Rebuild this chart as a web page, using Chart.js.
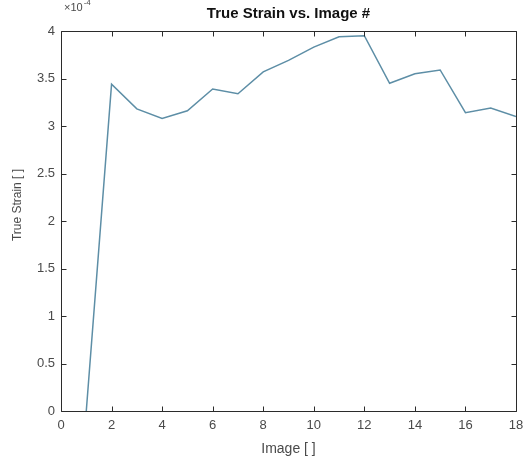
<!DOCTYPE html>
<html lang="en">
<head>
    <meta charset="UTF-8">
    <title>True Strain vs. Image #</title>
    <script src="https://cdn.jsdelivr.net/npm/chart.js"></script>
    <style>
        html, body { margin: 0; padding: 0; background: #fff; }
        #wrap { width: 526px; height: 461px; }
    </style>
</head>
<body>
    <div id="wrap"><canvas id="strainChart" width="526" height="461"></canvas></div>

    <script>
        // image number and the true strain measured on it
        const imageNums = [1, 2, 3, 4, 5, 6, 7, 8, 9, 10, 11, 12, 13, 14, 15, 16, 17, 18];
        const trueStrain = [0, 3.44e-4, 3.18e-4, 3.08e-4, 3.16e-4, 3.39e-4, 3.34e-4, 3.57e-4, 3.69e-4,
                            3.83e-4, 3.94e-4, 3.95e-4, 3.45e-4, 3.55e-4, 3.59e-4, 3.14e-4, 3.19e-4, 3.10e-4];
        const xTicks = [0, 2, 4, 6, 8, 10, 12, 14, 16, 18];
        const yTicks = [0, 0.5, 1, 1.5, 2, 2.5, 3, 3.5, 4]; // in units of 1e-4

        const axisColor = '#2b2b2b';
        const labelColor = '#4a4a4a';
        const fontFam = '"Liberation Sans", Arial, sans-serif';

        // box around the axes, ticks pointing inward on every side, title, y label and exponent
        const matlabAxes = {
            id: 'matlabAxes',
            afterDatasetsDraw(chart) {
                const { ctx, chartArea: a, scales } = chart;
                const tl = 5;
                const L = Math.round(a.left) + 0.5, R = Math.round(a.right) + 0.5;
                const T = Math.round(a.top) + 0.5, B = Math.round(a.bottom) + 0.5;
                ctx.save();
                ctx.globalAlpha = 1;
                ctx.globalCompositeOperation = 'source-over';
                ctx.setLineDash([]);
                ctx.strokeStyle = axisColor;
                ctx.lineWidth = 1;
                ctx.beginPath();
                ctx.moveTo(L, T); ctx.lineTo(R, T); ctx.lineTo(R, B); ctx.lineTo(L, B); ctx.closePath();
                xTicks.forEach(v => {
                    const px = Math.round(scales.x.getPixelForValue(v)) + 0.5;
                    ctx.moveTo(px, B); ctx.lineTo(px, B - tl);
                    ctx.moveTo(px, T); ctx.lineTo(px, T + tl);
                });
                yTicks.forEach(v => {
                    const py = Math.round(scales.y.getPixelForValue(v * 1e-4)) + 0.5;
                    ctx.moveTo(L, py); ctx.lineTo(L + tl, py);
                    ctx.moveTo(R, py); ctx.lineTo(R - tl, py);
                });
                ctx.stroke();

                ctx.fillStyle = '#111';
                ctx.font = 'bold 15px ' + fontFam;
                ctx.textAlign = 'center';
                ctx.textBaseline = 'middle';
                ctx.fillText('True Strain vs. Image #', (a.left + a.right) / 2, 14);

                // y axis label sits a bit above the middle of the axis
                ctx.fillStyle = labelColor;
                ctx.font = '12px ' + fontFam;
                ctx.save();
                ctx.translate(18, 205);
                ctx.rotate(-Math.PI / 2);
                ctx.fillText('True Strain [ ]', 0, 0);
                ctx.restore();

                ctx.textAlign = 'left';
                ctx.font = '11px ' + fontFam;
                ctx.fillText('\u00d710', a.left + 3, 8);
                const w = ctx.measureText('\u00d710').width;
                ctx.font = '8px ' + fontFam;
                ctx.fillText('-4', a.left + 3 + w + 1, 3);
                ctx.restore();
            }
        };

        new Chart(document.getElementById('strainChart'), {
            type: 'line',
            data: {
                datasets: [{
                    data: imageNums.map((n, i) => ({ x: n, y: trueStrain[i] })),
                    borderColor: '#5d8ea6',
                    borderWidth: 1.5,
                    pointRadius: 0,
                    tension: 0,
                    fill: false
                }]
            },
            options: {
                responsive: false,
                animation: false,
                layout: { padding: { top: 31, right: 10, left: 0, bottom: 0 } },
                plugins: { legend: { display: false }, tooltip: { enabled: false } },
                scales: {
                    x: {
                        type: 'linear',
                        min: 0, max: 18,
                        afterBuildTicks: s => { s.ticks = xTicks.map(v => ({ value: v })); },
                        afterFit: s => { s.height = 50; s.paddingLeft = 0; s.paddingRight = 0; },
                        grid: { display: false, drawTicks: false },
                        border: { display: false },
                        ticks: { color: labelColor, font: { size: 13, family: fontFam }, padding: 7, maxRotation: 0 },
                        title: { display: true, text: 'Image [ ]', color: labelColor,
                                 font: { size: 14, family: fontFam }, padding: { top: 0, bottom: 3 } }
                    },
                    y: {
                        min: 0, max: 4e-4,
                        afterBuildTicks: s => { s.ticks = yTicks.map(v => ({ value: v * 1e-4 })); },
                        afterFit: s => { s.width = 61; },
                        grid: { display: false, drawTicks: false },
                        border: { display: false },
                        ticks: {
                            color: labelColor, font: { size: 13, family: fontFam }, padding: 6,
                            callback: v => String(parseFloat((v * 1e4).toFixed(2)))
                        }
                    }
                }
            },
            plugins: [matlabAxes]
        });
    </script>
</body>
</html>
